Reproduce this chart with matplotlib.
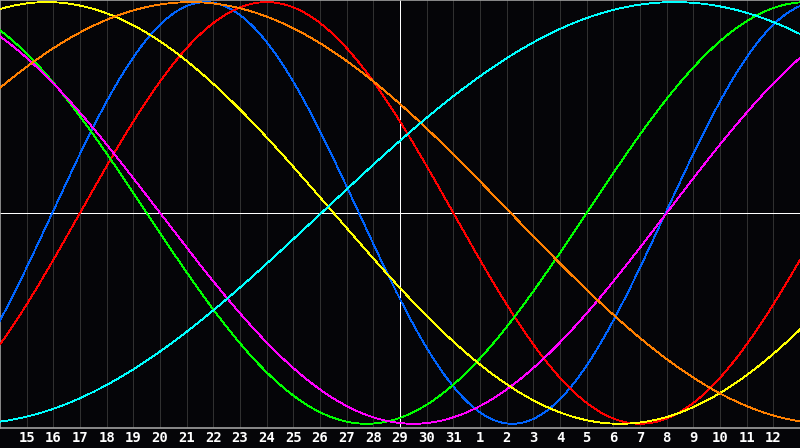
import numpy as np
import matplotlib
matplotlib.use("Agg")
import matplotlib.pyplot as plt

# day labels under each grid line (day index 1..29, index 0 = 14th)
day_labels = [str(d) for d in range(15, 32)] + [str(d) for d in range(1, 13)]

# cycles: period in days, day index of the peak, colour
periods = [23, 28, 33, 38, 43, 48, 53]
peak_days = [7.71, 10.0, 30.25, 34.5, 1.76, 7.15, 25.3]
colors = ['#0064ff', '#ff0000', '#00ff00', '#ff00ff', '#ffff00', '#ff8000', '#00ffff']

bg = '#050508'


def main():
    fig = plt.figure(figsize=(8, 4.48), dpi=100, facecolor=bg)
    ax = fig.add_axes([0, 20 / 448, 1, 428 / 448])
    ax.set_facecolor(bg)
    ax.set_xlim(0, 30)
    ax.set_ylim(-1.02, 1.01)

    for k in range(1, 30):
        c = 'white' if k == 15 else '#303030'
        ax.axvline(k, color=c, lw=0.72, antialiased=False, zorder=1)
    ax.axhline(0, color='white', lw=0.72, antialiased=False, zorder=1)

    d = np.linspace(0, 30, 1600)
    for p, pk, c in zip(periods, peak_days, colors):
        ax.plot(d, np.cos(2 * np.pi * (d - pk) / p), color=c, lw=0.6,
                antialiased=False, zorder=3)

    ax.set_xticks([])
    ax.set_yticks([])
    for s in ['top', 'left', 'bottom']:
        ax.spines[s].set_color('#a0a0a0')
        ax.spines[s].set_linewidth(1.2)
    ax.spines['right'].set_visible(False)

    for k, lab in enumerate(day_labels, start=1):
        fig.text(k / 30, 10 / 448, lab, color='white', ha='center', va='center',
                 fontsize=10, fontweight='bold', family='DejaVu Sans Mono')

    fig.savefig('out.png', dpi=100, facecolor=bg)


if __name__ == "__main__":
    main()
